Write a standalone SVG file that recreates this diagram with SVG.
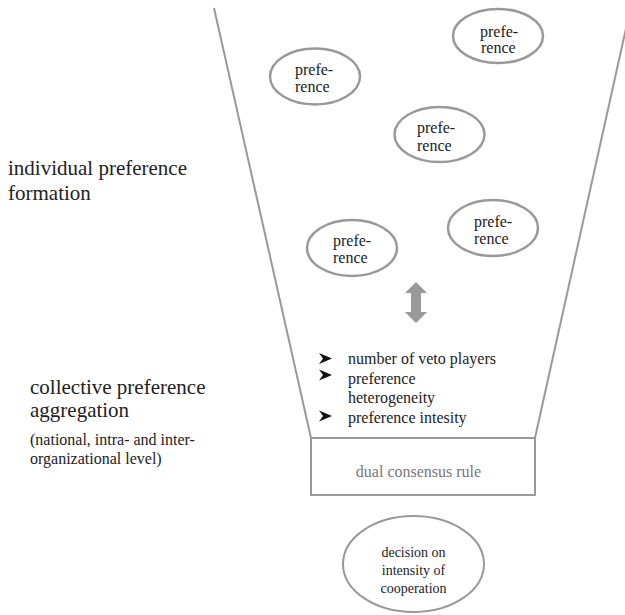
<svg xmlns="http://www.w3.org/2000/svg" width="625" height="615" viewBox="0 0 625 615">
<style>
.line{stroke:#999;stroke-width:2;fill:none}
.pref{fill:#fff;stroke:#999;stroke-width:2.5}
.t{font-family:"Liberation Serif","Times New Roman",serif;fill:#222}
.p{font-size:16px}
.big{font-size:21px}
.mid{font-size:16px}
.gray{fill:#777}
.bul{fill:#111}
</style>
<rect width="625" height="615" fill="#fff"/>
<g id="funnel">
<line class="line" x1="214" y1="8" x2="311" y2="438"/>
<line class="line" x1="630.5" y1="8" x2="535" y2="438"/>
</g>
<g id="labels">
<text class="t big" x="8" y="175">individual preference</text>
<text class="t big" x="8" y="200">formation</text>
<text class="t big" x="30" y="394">collective preference</text>
<text class="t big" x="30" y="417">aggregation</text>
<text class="t mid" x="30" y="445">(national, intra- and inter-</text>
<text class="t mid" x="30" y="464">organizational level)</text>
</g>
<g id="pref1"><ellipse class="pref" cx="498" cy="36" rx="45" ry="27"/><text class="t p" x="480" y="37">prefe-</text><text class="t p" x="481" y="53">rence</text></g>
<g id="pref2"><ellipse class="pref" cx="315" cy="76.5" rx="45" ry="28"/><text class="t p" x="295" y="75">prefe-</text><text class="t p" x="295" y="92">rence</text></g>
<g id="pref3"><ellipse class="pref" cx="439.5" cy="134.5" rx="45" ry="27.5"/><text class="t p" x="417" y="133">prefe-</text><text class="t p" x="417" y="151">rence</text></g>
<g id="pref4"><ellipse class="pref" cx="493" cy="228" rx="45" ry="28"/><text class="t p" x="474" y="227">prefe-</text><text class="t p" x="474" y="244">rence</text></g>
<g id="pref5"><ellipse class="pref" cx="352" cy="248" rx="45" ry="28"/><text class="t p" x="333" y="246">prefe-</text><text class="t p" x="333" y="263">rence</text></g>
<g id="connectors">
<polygon fill="#999" points="416,282 427,293 421,293 421,312 427,312 416,323 405,312 411,312 411,293 405,293"/>
</g>
<g id="factors">
<polygon class="bul" points="319,353 332,358.5 319,364 323,358.5"/>
<polygon class="bul" points="319,369.5 332,375 319,380.5 323,375"/>
<polygon class="bul" points="319,410.5 332,416 319,421.5 323,416"/>
<text class="t mid" x="348" y="364">number of veto players</text>
<text class="t mid" x="348" y="383.5">preference</text>
<text class="t mid" x="348" y="403">heterogeneity</text>
<text class="t mid" x="348" y="422.5">preference intesity</text>
</g>
<g id="rule">
<rect class="line" x="311" y="438" width="224" height="57"/>
<text class="t mid gray" x="418.5" y="477" text-anchor="middle">dual consensus rule</text>
</g>
<g id="decision">
<ellipse class="pref" cx="413.5" cy="564" rx="70.5" ry="48" style="stroke-width:2"/>
<text class="t" font-size="14" x="413.5" y="557" text-anchor="middle">decision on</text>
<text class="t" font-size="14" x="413.5" y="575" text-anchor="middle">intensity of</text>
<text class="t" font-size="14" x="413.5" y="593" text-anchor="middle">cooperation</text>
</g>
</svg>
